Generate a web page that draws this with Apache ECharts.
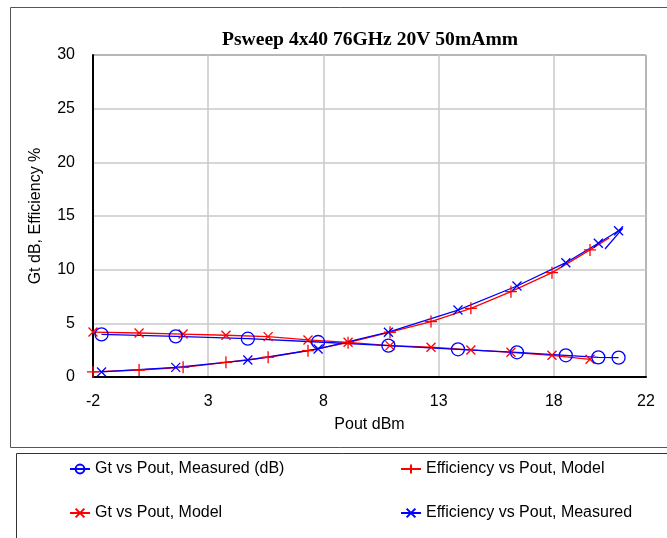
<!DOCTYPE html>
<html>
<head>
<meta charset="utf-8">
<script src="https://cdn.jsdelivr.net/npm/echarts@6/dist/echarts.min.js"></script>
<style>html,body{margin:0;padding:0;background:#fff;}#c{width:667px;height:538px;}</style>
</head>
<body>
<div id="c"></div>
<script>
// ---- data ----
const titleText = 'Psweep 4x40 76GHz 20V 50mAmm';
const xTicks = [-2, 3, 8, 13, 18, 22];
const poutMeasured = [-1.63, 1.59, 4.72, 7.77, 10.82, 13.84, 16.4, 18.52, 19.93, 20.81];
const gtMeasured = [3.97, 3.79, 3.57, 3.26, 2.92, 2.58, 2.30, 2.02, 1.83, 1.80];
const effMeasured = [0.47, 0.90, 1.58, 2.61, 4.17, 6.24, 8.48, 10.65, 12.46, 13.63];
const effMeasuredTailX = [20.99, 20.22];
const effMeasuredTailY = [13.85, 11.93];
const poutModel = [-2, 0, 1.91, 3.77, 5.6, 7.33, 9.07, 10.89, 12.67, 14.4, 16.14, 17.92, 19.57];
const gtModel = [4.19, 4.10, 4.00, 3.89, 3.76, 3.45, 3.23, 2.92, 2.77, 2.52, 2.30, 2.02, 1.65];
const effModel = [0.47, 0.65, 0.90, 1.37, 1.84, 2.45, 3.20, 4.17, 5.17, 6.40, 7.95, 9.72, 11.84];
const effModelTailX = [20.4];
const effModelTailY = [12.95];
const names = ['Gt vs Pout, Measured (dB)', 'Gt vs Pout, Model', 'Efficiency vs Pout, Model', 'Efficiency vs Pout, Measured'];

const BLUE = '#0000ff', RED = '#ff0000';
const X_PATH = 'path://M0,0L10,10M10,0L0,10';
const PLUS_PATH = 'path://M5,0L5,10M0,5L10,5';
const FONT = 'Liberation Sans';

function pairs(xs, ys) { return xs.map((x, i) => [x, ys[i]]); }
function withTail(main, tx, ty) {
  return main.concat(tx.map((x, i) => ({ value: [x, ty[i]], symbol: 'none' })));
}

const chart = echarts.init(document.getElementById('c'), null, { renderer: 'canvas' });
chart.setOption({
  backgroundColor: '#fff',
  animation: false,
  title: {
    text: titleText, left: 365, textAlign: 'center', top: 25,
    textStyle: { fontFamily: 'Liberation Serif', fontWeight: 'bold', fontSize: 19.6, color: '#000' }
  },
  graphic: [
    { type: 'rect', shape: { x: 10.5, y: 7.5, width: 700, height: 440 }, style: { fill: 'none', stroke: '#555', lineWidth: 1 }, z: -1 },
    { type: 'rect', shape: { x: 16.5, y: 453.5, width: 700, height: 120 }, style: { fill: '#fff', stroke: '#333', lineWidth: 1 }, z: -1 }
  ],
  grid: { left: 93, right: 21, top: 55, bottom: 161, show: true, borderColor: '#000', borderWidth: 1 },
  xAxis: {
    type: 'value', min: -2, max: 22,
    name: 'Pout dBm', nameLocation: 'middle', nameGap: 40,
    nameTextStyle: { fontFamily: FONT, fontSize: 16, color: '#000' },
    axisLine: { onZero: false, lineStyle: { color: '#000', width: 2 } },
    axisTick: { show: false, customValues: xTicks },
    axisLabel: { customValues: xTicks, margin: 17, fontFamily: FONT, fontSize: 16, color: '#000' },
    splitLine: { show: true, lineStyle: { color: '#c8c8c8', width: 1.5 } }
  },
  yAxis: {
    type: 'value', min: 0, max: 30, interval: 5,
    name: 'Gt dB, Efficiency %', nameLocation: 'middle', nameGap: 49,
    nameTextStyle: { fontFamily: FONT, fontSize: 16, color: '#000' },
    axisLine: { show: true, onZero: false, lineStyle: { color: '#000', width: 2 } },
    axisTick: { show: false },
    axisLabel: { margin: 18, fontFamily: FONT, fontSize: 16, color: '#000' },
    splitLine: { show: true, lineStyle: { color: '#c8c8c8', width: 1.5 } }
  },
  legend: [
    {
      data: [names[0], names[1]], orient: 'vertical', left: 64, top: 456, itemGap: 28,
      itemWidth: 20, itemHeight: 11, itemTextGap: 4,
      textStyle: { fontFamily: FONT, fontSize: 16, color: '#000' }
    },
    {
      data: [names[2], names[3]], orient: 'vertical', left: 395, top: 456, itemGap: 28,
      itemWidth: 20, itemHeight: 11, itemTextGap: 4,
      textStyle: { fontFamily: FONT, fontSize: 16, color: '#000' }
    }
  ],
  series: [
    {
      name: names[1], type: 'line', data: pairs(poutModel, gtModel),
      symbol: X_PATH, symbolSize: 9,
      lineStyle: { color: RED, width: 1.3 },
      itemStyle: { color: RED, borderColor: RED, borderWidth: 1.3 }
    },
    {
      name: names[2], type: 'line', data: withTail(pairs(poutModel, effModel), effModelTailX, effModelTailY),
      symbol: PLUS_PATH, symbolSize: 12,
      lineStyle: { color: RED, width: 1.3 },
      itemStyle: { color: RED, borderColor: RED, borderWidth: 1.3 }
    },
    {
      name: names[0], type: 'line', data: pairs(poutMeasured, gtMeasured),
      symbol: 'circle', symbolSize: 13,
      lineStyle: { color: BLUE, width: 1.3 },
      itemStyle: { color: 'rgba(0,0,0,0)', borderColor: BLUE, borderWidth: 1.3 }
    },
    {
      name: names[3], type: 'line', data: withTail(pairs(poutMeasured, effMeasured), effMeasuredTailX, effMeasuredTailY),
      symbol: X_PATH, symbolSize: 9,
      lineStyle: { color: BLUE, width: 1.3 },
      itemStyle: { color: BLUE, borderColor: BLUE, borderWidth: 1.3 }
    }
  ]
});
</script>
</body>
</html>
